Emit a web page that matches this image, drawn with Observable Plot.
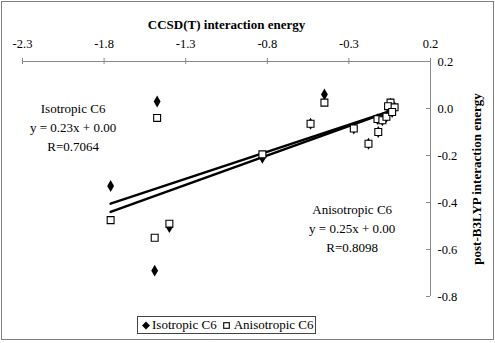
<!DOCTYPE html>
<html>
<head>
<meta charset="utf-8">
<script src="https://cdn.jsdelivr.net/npm/d3@7"></script>
<script src="https://cdn.jsdelivr.net/npm/@observablehq/plot@0.6"></script>
<style>
  html, body { margin: 0; padding: 0; background: #fff; }
  #wrap { position: relative; width: 495px; height: 343px; overflow: hidden; font-family: "Liberation Serif", "Times New Roman", serif; }
  #border { position: absolute; left: 1px; top: 1px; width: 491px; height: 337px; border: 1px solid #808080; pointer-events: none; }
  #legend { position: absolute; left: 137px; top: 316px; height: 16px; padding: 0 2px 0 4px; border: 1px solid #444; background: #fff;
            display: flex; align-items: center; font-size: 13px; line-height: 16px; white-space: nowrap; color: #000; }
  #legend .m1 { margin-right: 2px; }
  #legend .m2 { margin-left: 6px; margin-right: 4px; }
  #chart { position: absolute; left: 0; top: 0; }
</style>
</head>
<body>
<div id="wrap">
  <div id="chart"></div>
  <div id="border"></div>
  <div id="legend"></div>
</div>
<script>
// ---- data ----
const seriesNames = ["Isotropic C6", "Anisotropic C6"];
const ccsdX = [-1.76, -1.475, -1.49, -1.40, -0.83, -0.45, -0.535, -0.27, -0.18, -0.12, -0.125, -0.095, -0.07, -0.045, -0.06, -0.02, -0.035];
const isoY = [-0.33, 0.03, -0.69, -0.505, -0.21, 0.06, -0.065, -0.085, -0.15, -0.10, -0.045, -0.05, -0.035, 0.02, 0.005, 0.005, -0.015];
const anisoY = [-0.475, -0.04, -0.55, -0.49, -0.195, 0.025, -0.065, -0.085, -0.15, -0.10, -0.045, -0.05, -0.035, 0.025, 0.01, 0.005, -0.015];
const slopes = [0.23, 0.25];
const intercepts = [0.00, 0.00];
const rValues = ["0.7064", "0.8098"];
const xTicks = [-2.3, -1.8, -1.3, -0.8, -0.3, 0.2];
const yTicks = [0.2, 0.0, -0.2, -0.4, -0.6, -0.8];
const xTitle = "CCSD(T) interaction energy";
const yTitle = "post-B3LYP interaction energy";

// ---- derived tables ----
const isoPts = ccsdX.map((x, i) => ({x, y: isoY[i]}));
const anisoPts = ccsdX.map((x, i) => ({x, y: anisoY[i]}));
const xmin = d3.min(ccsdX), xmax = d3.max(ccsdX);
const trend = seriesNames.flatMap((s, k) => [xmin, xmax].map(x => ({s, x, y: slopes[k] * x + intercepts[k]})));
const eq = k => `${seriesNames[k]}\ny = ${slopes[k].toFixed(2)}x + ${intercepts[k].toFixed(2)}\nR=${rValues[k]}`;
const notes = [
  {x: -1.99, y: 0.036, t: eq(0)},
  {x: -0.28, y: -0.392, t: eq(1)}
];

const fmt = d => d.toFixed(1);
const axisColor = "#888";

const chart = Plot.plot({
  width: 495,
  height: 343,
  marginLeft: 22,
  marginRight: 65,
  marginTop: 61,
  marginBottom: 47,
  x: {domain: [-2.3, 0.2]},
  y: {domain: [-0.8, 0.2]},
  style: {fontFamily: "'Liberation Serif', 'Times New Roman', serif", fontSize: "12px", color: "#000", background: "transparent"},
  marks: [
    Plot.ruleY([0.2], {stroke: axisColor}),
    Plot.ruleX([0.2], {stroke: axisColor}),
    Plot.ruleX(xTicks, {x: d => d, y1: 0.2, y2: 0.2, insetTop: -3, insetBottom: -3, stroke: axisColor}),
    Plot.ruleY(yTicks, {y: d => d, x1: 0.2, x2: 0.2, insetLeft: -4, insetRight: 0, stroke: axisColor}),
    Plot.axisX(xTicks, {anchor: "top", tickSize: 0, tickPadding: 14, tickFormat: fmt, label: null, fontSize: 12.5, fill: "#000"}),
    Plot.axisY(yTicks, {anchor: "right", tickSize: 0, tickPadding: 7, tickFormat: fmt, label: null, fontSize: 12.5, fill: "#000"}),
    Plot.text([xTitle], {frameAnchor: "top", dy: -37, text: d => d, lineAnchor: "middle", textAnchor: "middle", fontWeight: "bold", fontSize: 13, fill: "#000"}),
    Plot.text([yTitle], {frameAnchor: "right", dx: 46, rotate: -90, text: d => d, lineAnchor: "middle", textAnchor: "middle", fontWeight: "bold", fontSize: 13, fill: "#000"}),
    Plot.line(trend, {x: "x", y: "y", z: "s", stroke: "#000", strokeWidth: 2.5}),
    Plot.dot(isoPts, {x: "x", y: "y", symbol: "diamond", r: 3.6, fill: "#000", stroke: "none"}),
    Plot.dot(anisoPts, {x: "x", y: "y", symbol: "square", r: 3.9, fill: "#fff", stroke: "#000", strokeWidth: 1.1}),
    Plot.text(notes, {x: "x", y: "y", text: "t", lineAnchor: "top", textAnchor: "middle", fontSize: 13, lineHeight: 1.45, fill: "#000"})
  ]
});
document.getElementById("chart").appendChild(chart);

// legend
const lg = document.getElementById("legend");
lg.innerHTML =
  `<svg class="m1" width="8" height="9" viewBox="-4 -4.5 8 9"><path d="M0,-4L4,0L0,4L-4,0Z" fill="#000"/></svg>${seriesNames[0]}` +
  `<svg class="m2" width="7" height="7" viewBox="-3.5 -3.5 7 7"><rect x="-2.8" y="-2.8" width="5.6" height="5.6" fill="#fff" stroke="#000" stroke-width="1.1"/></svg>${seriesNames[1]}`;
</script>
</body>
</html>
